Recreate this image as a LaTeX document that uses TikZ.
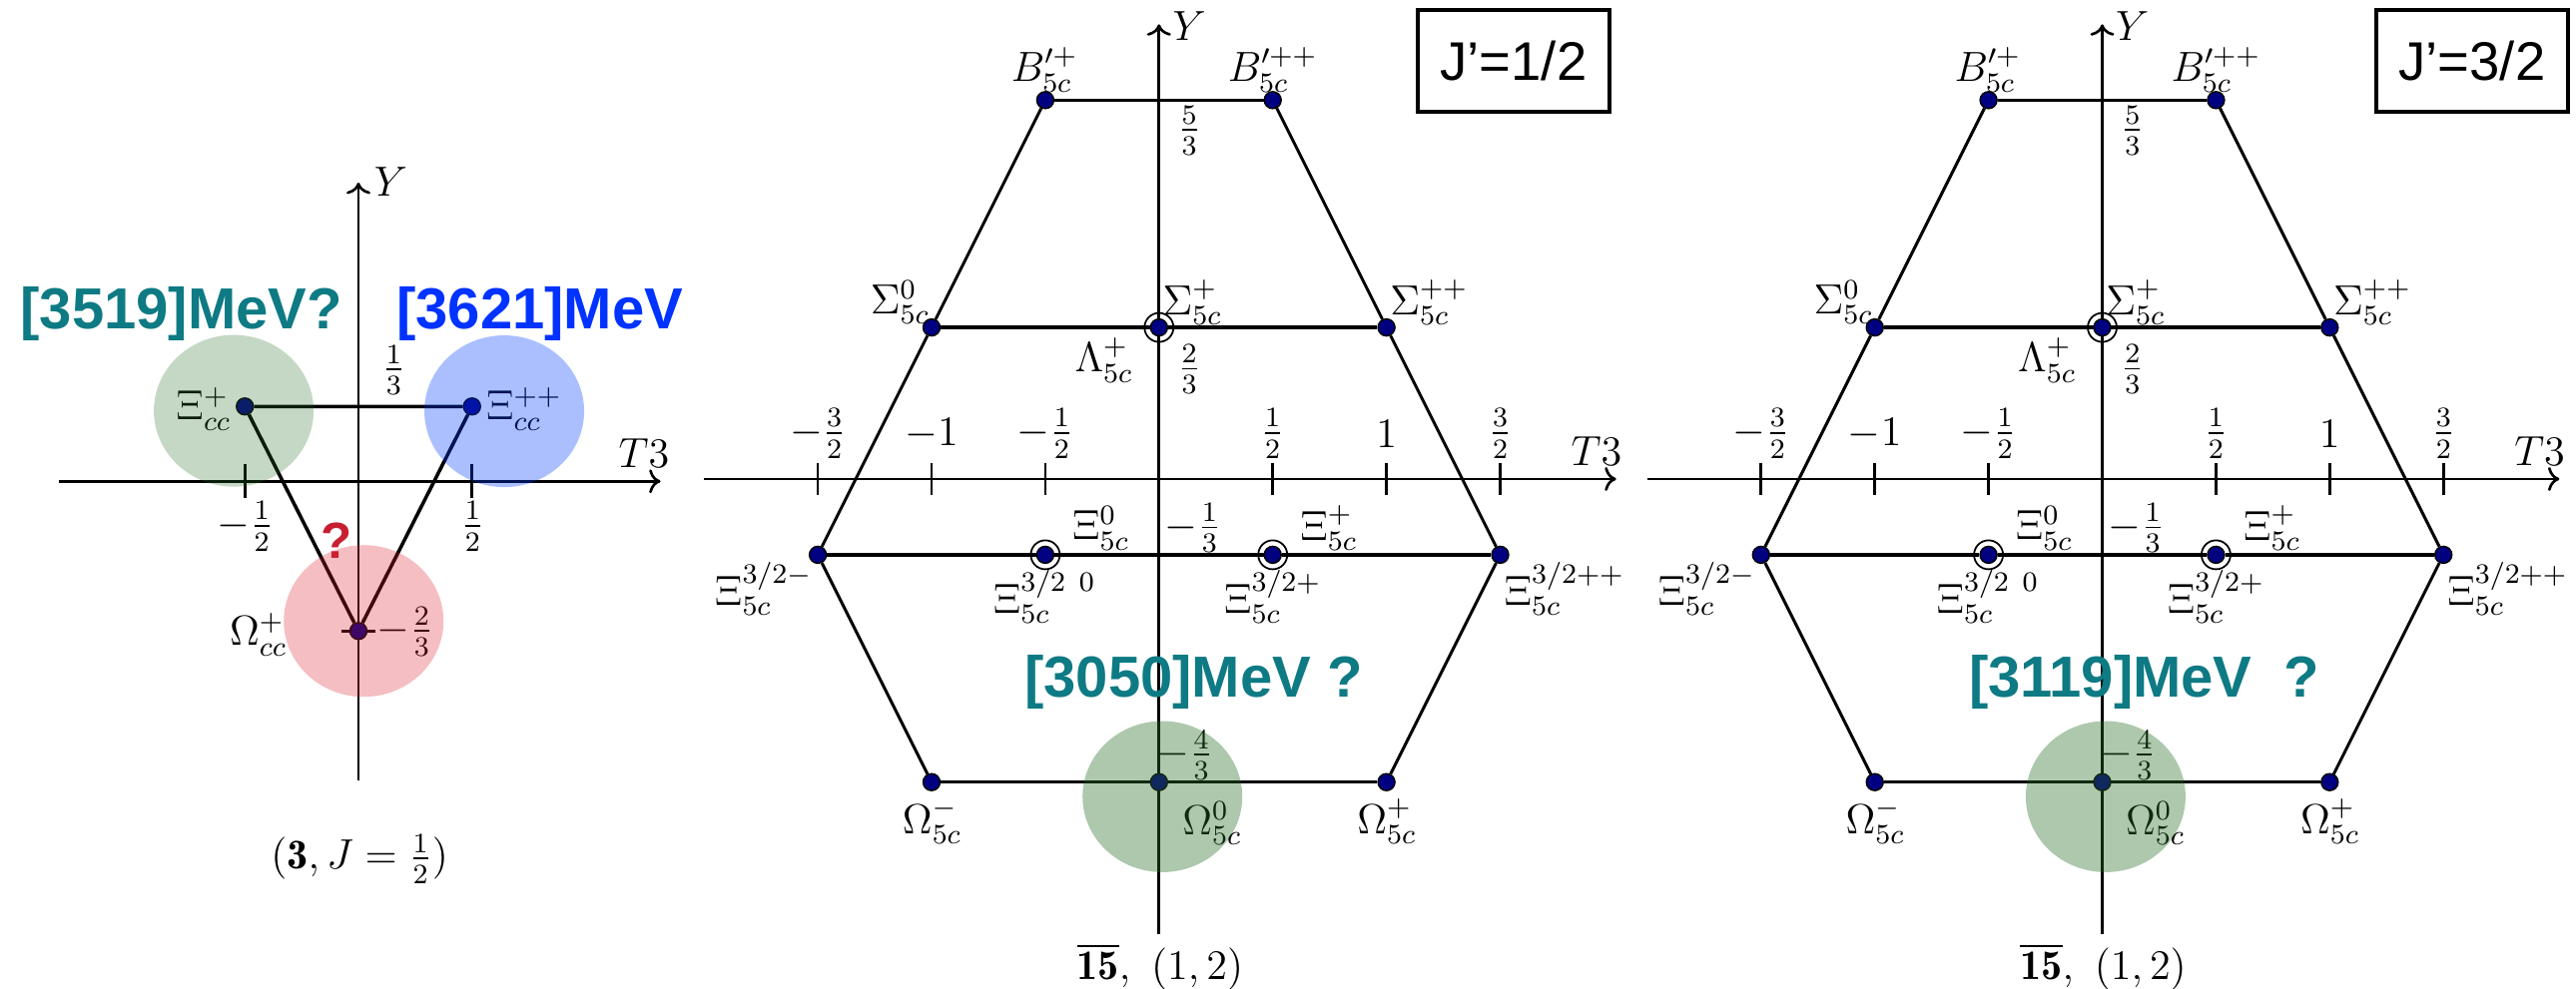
\documentclass[tikz,border=0pt]{standalone}
\usepackage{amsmath,amssymb}
\usepackage{fontspec}
\newfontfamily\mevfont{Liberation Sans}
\usepackage{tikz}
\usetikzlibrary{arrows.meta,positioning}
\definecolor{navy}{HTML}{000080}
\definecolor{tealtxt}{HTML}{0E7A84}
\definecolor{bluetxt}{HTML}{0033FF}
\definecolor{redq}{HTML}{C81E32}
\definecolor{blobgreen}{HTML}{286E28}
\definecolor{blobblue}{HTML}{003CFF}
\definecolor{blobred}{HTML}{DC1E2D}

\begin{document}
\begin{tikzpicture}[x=1cm,y=1cm,
  every node/.style={font=\fontsize{12}{14}\selectfont},
  particle/.style={circle,draw=black,fill=navy,inner sep=0pt,minimum size=1.7mm,line width=0.4pt},
  ringed/.style={circle,draw=black,inner sep=0pt,minimum size=2.9mm,line width=0.5pt},
  axisline/.style={->,line width=0.75pt},
  rowline/.style={line width=1pt},
  sideline/.style={line width=0.85pt},
  mev/.style={font=\mevfont\bfseries\fontsize{16.5}{18}\selectfont},
  jbox/.style={draw,line width=1.2pt,minimum width=1.917cm,minimum height=1.017cm,inner sep=0pt,
    font=\mevfont\fontsize{15.5}{17}\selectfont}]
  \useasboundingbox (0,0) rectangle (25.8,9.91);

  % triplet
  \begin{scope}[shift={(3.59,5.087)},x=2.275cm,y=2.25cm]
    \draw[axisline] (-1.32,0) -- (1.33,0);
    \draw[axisline] (0,-1.33) -- (0,1.33);
    \node (lT) at (1.257,0.126) {$T3$};
    \node (lY) at (0.143,1.332) {$Y$};
    \foreach \t in {-0.5,0.5} \draw[line width=0.75pt] (\t,-0.076) -- (\t,0.076);
    \draw[line width=1pt] (-0.073,-2/3) -- (0.073,-2/3);
    \node (lm) at (-0.498,-0.201) {$-\frac{1}{2}$};
    \node (lp) at (0.503,-0.201) {$\frac{1}{2}$};
    \node (lthird) at (0.155,0.496) {$\frac{1}{3}$};
    \node (ltwo) at (0.206,-0.668) {$-\frac{2}{3}$};
    \node[particle] (xip) at (-0.5,1/3) {};
    \node[particle] (xipp) at (0.5,1/3) {};
    \node[particle] (omg) at (0,-2/3) {};
    \draw[rowline] (xip) -- (xipp) -- (omg) -- (xip);
    \node (lxip) at (-0.681,0.321) {$\Xi^{+}_{cc}$};
    \node (lxipp) at (0.730,0.321) {$\Xi^{++}_{cc}$};
    \node (lomg) at (-0.44,-0.682) {$\Omega^{+}_{cc}$};
    \node (lrep) at (0.005,-1.682) {$(\mathbf{3},J=\frac{1}{2})$};
    \node[mev,text=tealtxt,anchor=base] (m1) at (-0.779,0.677) {[3519]MeV?};
    \node[mev,text=bluetxt,anchor=base] (m2) at (0.799,0.677) {[3621]MeV};
    \node[font=\mevfont\bfseries\fontsize{14.5}{16}\selectfont,text=redq] (qm) at (-0.098,-0.264) {?};
    \fill[blobgreen,opacity=0.27] (-0.549,0.314) ellipse [x radius=0.8cm,y radius=0.76cm];
    \fill[blobblue,opacity=0.33] (0.642,0.312) ellipse [x radius=0.8cm,y radius=0.76cm];
    \fill[blobred,opacity=0.29] (0.023,-0.622) ellipse [x radius=0.8cm,y radius=0.76cm];
  \end{scope}

  % fifteen-plets
  \foreach \ox/\bx/\mx/\mass/\jp in {11.608/1.559/0.152/{[3050]MeV ?}/{J’=1/2},
      21.055/1.626/0.185/{[3119]MeV\ \ ?}/{J’=3/2}}{
  \begin{scope}[shift={(\ox,5.11)},x=2.278cm,y=2.278cm]
    \draw[axisline] (-2,0) -- (2.01,0);
    \draw[axisline] (0,-2) -- (0,2);
    \node (T) at (1.923,0.121) {$T3$};
    \node (Y) at (0.133,1.994) {$Y$};
    \foreach \t in {-1.5,-1,-0.5,0.5,1,1.5} \draw[line width=0.75pt] (\t,-0.07) -- (\t,0.07);
    \foreach \t in {5/3,2/3,-1/3,-4/3} \draw[line width=1pt] (-0.07,\t) -- (0.07,\t);
    \foreach \t/\lab [count=\i] in {-1.5/-\frac{3}{2},-1/-1,-0.5/-\frac{1}{2},0.5/\frac{1}{2},1/1,1.5/\frac{3}{2}}
      \node (tick\i) at (\t,0.2) {$\lab$};
    \node (y53) at (0.133,1.533) {$\frac{5}{3}$};
    \node (y23) at (0.133,0.483) {$\frac{2}{3}$};
    \node (y13) at (0.150,-0.215) {$-\frac{1}{3}$};
    \node (y43) at (0.114,-1.215) {$-\frac{4}{3}$};

    \node[particle] (b1) at (-0.5,5/3) {};
    \node[particle] (b2) at (0.5,5/3) {};
    \node[particle] (s0) at (-1,2/3) {};
    \node[particle] (sp) at (0,2/3) {};
    \node[particle] (spp) at (1,2/3) {};
    \node[particle] (xm) at (-1.5,-1/3) {};
    \node[particle] (x0) at (-0.5,-1/3) {};
    \node[particle] (xp) at (0.5,-1/3) {};
    \node[particle] (xpp) at (1.5,-1/3) {};
    \node[particle] (om) at (-1,-4/3) {};
    \node[particle] (o0) at (0,-4/3) {};
    \node[particle] (op) at (1,-4/3) {};
    \node[ringed] (rsp) at (sp) {};
    \node[ringed] (rx0) at (x0) {};
    \node[ringed] (rxp) at (xp) {};

    \draw[rowline] (b1) -- (b2);
    \draw[rowline] (s0) -- (sp) -- (spp);
    \draw[rowline] (xm) -- (x0) -- (xp) -- (xpp);
    \draw[rowline] (om) -- (o0) -- (op);
    \draw[sideline] (b1) -- (s0) -- (xm) -- (om);
    \draw[sideline] (b2) -- (spp) -- (xpp) -- (op);

    \node (lb1) at (-0.503,1.80) {$B'^{+}_{5c}$};
    \node (lb2) at (0.50,1.80) {$B'^{++}_{5c}$};
    \node (ls0) at (-1.138,0.777) {$\Sigma^{0}_{5c}$};
    \node (lsp) at (0.147,0.777) {$\Sigma^{+}_{5c}$};
    \node (lspp) at (1.188,0.777) {$\Sigma^{++}_{5c}$};
    \node (llam) at (-0.242,0.523) {$\Lambda^{+}_{5c}$};
    \node (lx0) at (-0.255,-0.216) {$\Xi^{0}_{5c}$};
    \node (lxp) at (0.747,-0.216) {$\Xi^{+}_{5c}$};
    \node (lxm) at (-1.739,-0.483) {$\Xi^{3/2-}_{5c}$};
    \node (lxq0) at (-0.503,-0.519) {$\Xi^{3/2\ 0}_{5c}$};
    \node (lxqp) at (0.50,-0.519) {$\Xi^{3/2+}_{5c}$};
    \node (lxpp) at (1.783,-0.483) {$\Xi^{3/2++}_{5c}$};
    \node (lom) at (-0.997,-1.507) {$\Omega^{-}_{5c}$};
    \node (lo0) at (0.234,-1.514) {$\Omega^{0}_{5c}$};
    \node (lop) at (1.002,-1.507) {$\Omega^{+}_{5c}$};
    \node (rep) at (0.005,-2.147) {$\overline{\mathbf{15}},\ (1,2)$};

    \node[mev,text=tealtxt] (mass) at (\mx,-0.893) {\mass};
    \node[jbox] (jb) at (\bx,1.840) {\jp};
    \fill[blobgreen,opacity=0.38] (0.015,-1.397) ellipse [x radius=0.8cm,y radius=0.757cm];
  \end{scope}}
\end{tikzpicture}
\end{document}
